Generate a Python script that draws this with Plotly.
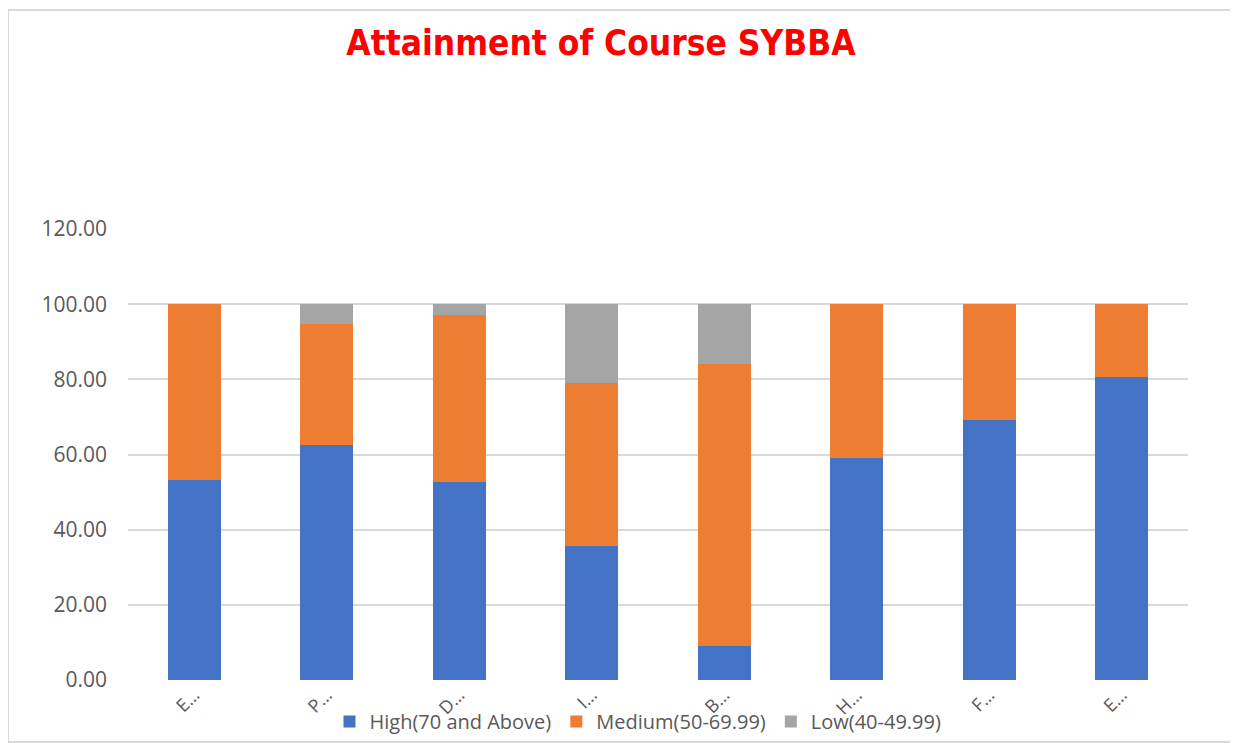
import plotly.graph_objects as go

categories = ["E…", "P…", "D…", "I…", "B…", "H…", "F…", "E…"]
high = [53.3, 62.4, 52.7, 35.7, 9.1, 59.0, 69.3, 80.6]
medium = [46.7, 32.4, 44.3, 43.2, 74.9, 41.0, 30.7, 19.4]
low = [0.0, 5.2, 3.0, 21.1, 16.0, 0.0, 0.0, 0.0]
series_names = ["High(70 and Above)", "Medium(50-69.99)", "Low(40-49.99)"]
colors = ["#4472C4", "#ED7D31", "#A5A5A5"]
y_ticks = [0, 20, 40, 60, 80, 100, 120]

x = list(range(len(categories)))

fig = go.Figure()
for name, vals, col in zip(series_names, [high, medium, low], colors):
    fig.add_trace(go.Bar(x=x, y=vals, name=name, marker_color=col,
                         marker_line_width=0, width=0.4))

# page body has an 8px margin: work in screenshot pixels minus 8
OFF = 8
W, H = 1238 - OFF, 743 - OFF
L, R, T, B = 128 - OFF, 1188 - OFF, 229 - OFF, 680 - OFF
pw, ph = R - L, B - T

def px(xs):
    return (xs - OFF - L) / pw

def py(ys):
    return (B - (ys - OFF)) / ph

fig.update_layout(
    width=W, height=H,
    barmode="stack",
    paper_bgcolor="white", plot_bgcolor="white",
    margin=dict(l=L, r=W - R, t=T, b=H - B, autoexpand=False),
    title=dict(text="<b>Attainment of Course SYBBA</b>", x=(601 - OFF) / W, xanchor="center",
               y=1 - (43 - OFF) / H, yanchor="middle",
               font=dict(family="DejaVu Sans Condensed, Open Sans, sans-serif", size=35, color="#FF0000")),
    xaxis=dict(tickmode="array", tickvals=x, ticktext=categories, tickangle=-45,
               range=[-0.5, len(categories) - 0.5], showgrid=False, zeroline=False,
               showline=False, ticks="",
               tickfont=dict(family="Open Sans", size=18, color="#595959")),
    yaxis=dict(range=[0, 120], tickvals=y_ticks, tickformat=".2f",
               showgrid=True, gridcolor="#D9D9D9", gridwidth=1.5, zeroline=False,
               showline=False, ticks="", ticklabelstandoff=20,
               tickfont=dict(family="Open Sans", size=21, color="#595959")),
    legend=dict(orientation="h", traceorder="normal", x=px(638), xanchor="center",
                y=py(741), yanchor="bottom", bgcolor="rgba(0,0,0,0)",
                font=dict(family="Open Sans", size=20, color="#595959"),
                itemwidth=30),
    showlegend=True,
)

# chart frame lines (top, left, bottom)
line_style = dict(color="#D9D9D9", width=2)
fig.add_shape(type="line", xref="paper", yref="paper", x0=px(8), x1=px(1238), y0=py(10), y1=py(10), line=line_style)
fig.add_shape(type="line", xref="paper", yref="paper", x0=px(8), x1=px(8), y0=py(10), y1=py(742), line=line_style)
fig.add_shape(type="line", xref="paper", yref="paper", x0=px(8), x1=px(1238), y0=py(742), y1=py(742), line=line_style)

fig.write_html("out.html")
